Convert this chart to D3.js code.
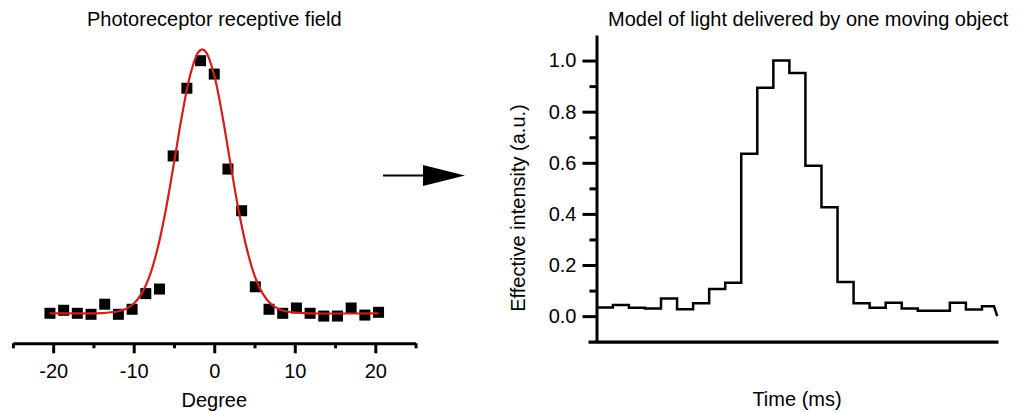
<!DOCTYPE html>
<html>
<head>
<meta charset="utf-8">
<script src="https://cdn.jsdelivr.net/npm/d3@7"></script>
<style>
  body { margin: 0; background: #fff; }
  svg { display: block; font-family: "Liberation Sans", Arial, sans-serif; }
</style>
</head>
<body>
<div id="chart"></div>
<script>
// Left panel: measured receptive field (squares) and gaussian fit (red)
const degree = [-20.4, -18.7, -17.0, -15.3, -13.6, -11.9, -10.2, -8.5, -6.8, -5.1, -3.4, -1.7, 0,
  1.7, 3.4, 5.1, 6.8, 8.5, 10.2, 11.9, 13.6, 15.3, 17.0, 18.7, 20.4];
const response = [0.000, 0.012, 0.000, -0.004, 0.036, -0.004, 0.016, 0.078, 0.096, 0.623, 0.891, 1.000, 0.947,
  0.571, 0.406, 0.105, 0.016, 0.000, 0.021, 0.000, -0.011, -0.011, 0.021, -0.007, 0.004];

const fitDegree = [-20.4, -14, -12, -11, -10, -9, -8, -7, -6, -5, -4, -3, -2, -1.5, -1, 0,
  1, 2, 3, 4, 5, 6, 7, 8, 9, 11, 20.4];
const fitResponse = [0, 0.001, 0.007, 0.017, 0.038, 0.079, 0.150, 0.261, 0.412, 0.595, 0.784, 0.942, 1.033, 1.045, 1.033, 0.942,
  0.784, 0.595, 0.412, 0.261, 0.150, 0.079, 0.038, 0.017, 0.007, 0.001, 0];

const degreeTicks = [-20, -10, 0, 10, 20];
const degreeMinorTicks = [-25, -15, -5, 5, 15, 25];

// Right panel: stepped light model
const stepValues = [0.034, 0.044, 0.033, 0.030, 0.069, 0.027, 0.050, 0.106, 0.131, 0.635, 0.894, 1.000, 0.951,
  0.588, 0.426, 0.134, 0.050, 0.033, 0.052, 0.030, 0.021, 0.021, 0.052, 0.026, 0.039];
const stepEdges = [0, 1, 2, 3, 4, 5, 6, 7, 8, 9, 10, 11, 12, 13, 14, 15, 16, 17, 18, 19, 20, 21, 22, 23, 24, 24.75];
const stepEnd = { t: 24.95, v: 0 };

const intensityTicks = [0, 0.2, 0.4, 0.6, 0.8, 1.0];
const intensityMinorTicks = [0.1, 0.3, 0.5, 0.7, 0.9];

const W = 1025, H = 412;
const svg = d3.select("#chart").append("svg")
  .attr("width", W)
  .attr("height", H);

// ---------- left panel ----------
const xL = d3.scaleLinear().domain([-25, 25]).range([12.9, 415.6]);
const yL = d3.scaleLinear().domain([0, 1]).range([313.3, 60.7]);
const axisYL = 343.3;

const gxMinor = svg.append("g")
  .attr("transform", `translate(0,${axisYL})`)
  .call(d3.axisBottom(xL).tickValues(degreeMinorTicks).tickSize(5).tickSizeOuter(0).tickFormat(""));
gxMinor.select(".domain").attr("stroke-width", 3);
gxMinor.selectAll(".tick line").attr("stroke-width", 3);

const gxMajor = svg.append("g")
  .attr("transform", `translate(0,${axisYL})`)
  .attr("font-family", null)
  .call(d3.axisBottom(xL).tickValues(degreeTicks).tickSize(10).tickSizeOuter(0).tickPadding(10.5)
    .tickFormat(d => String(d)));
gxMajor.attr("font-family", null);
gxMajor.select(".domain").remove();
gxMajor.selectAll(".tick line").attr("stroke-width", 3);
gxMajor.selectAll(".tick text").attr("font-size", 20).attr("fill", "#000");

svg.append("text")
  .attr("x", xL(0))
  .attr("y", 407)
  .attr("text-anchor", "middle")
  .attr("font-size", 20)
  .text("Degree");

svg.append("text")
  .attr("x", xL(0))
  .attr("y", 26)
  .attr("text-anchor", "middle")
  .attr("font-size", 20)
  .text("Photoreceptor receptive field");

const sq = 11;
svg.selectAll(".pt")
  .data(degree)
  .enter()
  .append("rect")
  .attr("class", "pt")
  .attr("x", d => xL(d) - sq / 2)
  .attr("y", (d, i) => yL(response[i]) - sq / 2)
  .attr("width", sq)
  .attr("height", sq)
  .attr("fill", "#000");

const fitLine = d3.line()
  .x(d => xL(d[0]))
  .y(d => yL(d[1]))
  .curve(d3.curveCatmullRom);

svg.append("path")
  .datum(fitDegree.map((d, i) => [d, fitResponse[i]]))
  .attr("d", fitLine)
  .attr("fill", "none")
  .attr("stroke", "#d41e1e")
  .attr("stroke-width", 2.2);

// ---------- arrow ----------
svg.append("line")
  .attr("x1", 383).attr("y1", 175.5)
  .attr("x2", 430).attr("y2", 175.5)
  .attr("stroke", "#000")
  .attr("stroke-width", 2);
svg.append("path")
  .attr("d", "M423,165 L465,175.5 L423,186 Z")
  .attr("fill", "#000");

// ---------- right panel ----------
const xR = d3.scaleLinear().domain([-0.55, 25.0]).range([588, 998]);
const yR = d3.scaleLinear().domain([-0.1, 1.1]).range([341.7, 35]);
const axisXR = 596.5;

const gyMinor = svg.append("g")
  .attr("transform", `translate(${axisXR},0)`)
  .call(d3.axisLeft(yR).tickValues(intensityMinorTicks).tickSize(7).tickSizeOuter(0).tickFormat(""));
gyMinor.select(".domain").attr("stroke-width", 3);
gyMinor.selectAll(".tick line").attr("stroke-width", 3);

const gyMajor = svg.append("g")
  .attr("transform", `translate(${axisXR},0)`)
  .call(d3.axisLeft(yR).tickValues(intensityTicks).tickSize(14).tickSizeOuter(0).tickPadding(6)
    .tickFormat(d3.format(".1f")));
gyMajor.attr("font-family", null);
gyMajor.select(".domain").remove();
gyMajor.selectAll(".tick line").attr("stroke-width", 3);
gyMajor.selectAll(".tick text").attr("font-size", 20).attr("fill", "#000");

const gxR = svg.append("g")
  .attr("transform", `translate(0,${yR(-0.1)})`)
  .call(d3.axisBottom(xR).tickValues([]).tickSizeOuter(0));
gxR.select(".domain").attr("stroke-width", 3.3);

// step trace built from the values
const stepPts = [];
stepValues.forEach((v, i) => {
  stepPts.push([stepEdges[i], v]);
  stepPts.push([stepEdges[i + 1], v]);
});
stepPts.push([stepEnd.t, stepEnd.v]);

svg.append("path")
  .datum(stepPts)
  .attr("d", d3.line().x(d => xR(d[0])).y(d => yR(d[1])))
  .attr("fill", "none")
  .attr("stroke", "#000")
  .attr("stroke-width", 2.5)
  .attr("stroke-linejoin", "miter");

svg.append("text")
  .attr("x", 608)
  .attr("y", 26)
  .attr("font-size", 20)
  .text("Model of light delivered by one moving object");

svg.append("text")
  .attr("x", 797)
  .attr("y", 406)
  .attr("text-anchor", "middle")
  .attr("font-size", 20)
  .text("Time (ms)");

svg.append("text")
  .attr("transform", "translate(524.5,208) rotate(-90)")
  .attr("text-anchor", "middle")
  .attr("font-size", 20)
  .text("Effective intensity (a.u.)");
</script>
</body>
</html>
